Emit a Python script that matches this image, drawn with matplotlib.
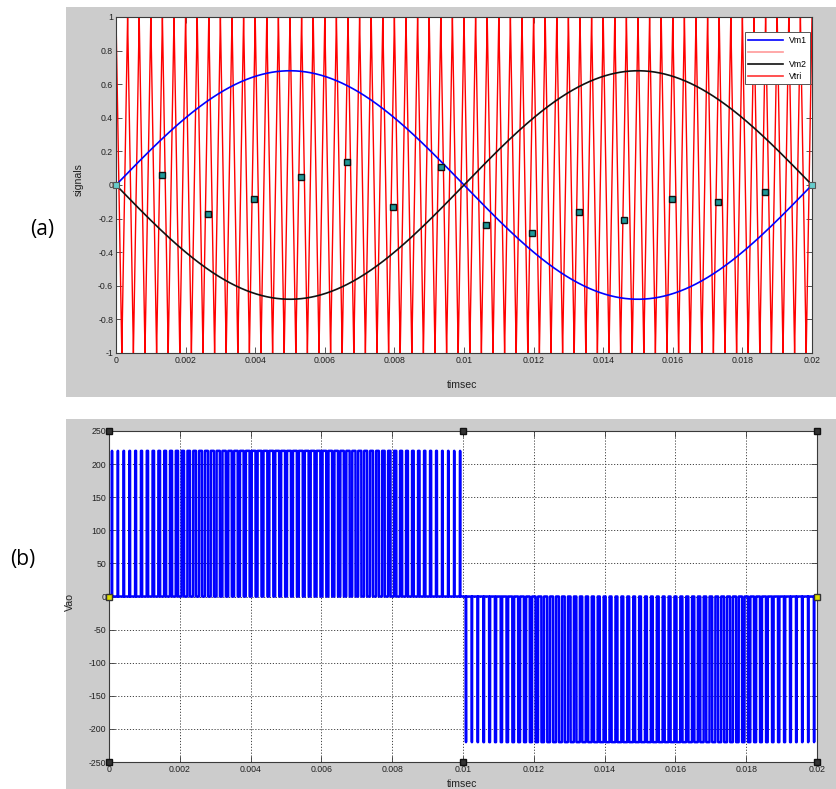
import numpy as np
import matplotlib
matplotlib.use('Agg')
import matplotlib.pyplot as plt
from matplotlib.patches import Rectangle
from matplotlib.lines import Line2D

plt.rcParams['font.family'] = ['Liberation Sans', 'DejaVu Sans']

# ---- signal parameters ----
t_end = 0.02
mod_freq = 50          # Hz
mod_amp = 0.68         # peak of Vm1 / Vm2
carrier_freq = 3000    # Hz (60 carrier periods over 0.02 s)
vdc = 220              # pulse height of Vao

# data-tip markers in panel (a)
tip_t = [0.00131, 0.00264, 0.00397, 0.00532, 0.00663, 0.00796, 0.00933,
         0.01063, 0.01195, 0.01330, 0.01461, 0.01598, 0.01729, 0.01864]
tip_v = [0.058, -0.173, -0.083, 0.046, 0.138, -0.131, 0.105,
         -0.236, -0.288, -0.160, -0.210, -0.083, -0.101, -0.042]

xticks = [0, 0.002, 0.004, 0.006, 0.008, 0.01, 0.012, 0.014, 0.016, 0.018, 0.02]
xtick_labels = ['0', '0.002', '0.004', '0.006', '0.008', '0.01',
                '0.012', '0.014', '0.016', '0.018', '0.02']
yticks_a = [-1, -0.8, -0.6, -0.4, -0.2, 0, 0.2, 0.4, 0.6, 0.8, 1]
ytick_labels_a = ['-1', '-0.8', '-0.6', '-0.4', '-0.2', '0',
                  '0.2', '0.4', '0.6', '0.8', '1']
yticks_b = [-250, -200, -150, -100, -50, 0, 50, 100, 150, 200, 250]
ytick_labels_b = [str(v) for v in yticks_b]

# ---- waveforms ----
t = np.linspace(0, t_end, 240001)
vm1 = mod_amp * np.sin(2 * np.pi * mod_freq * t)
vm2 = -vm1
vtri = 4 * np.abs((t * carrier_freq) % 1.0 - 0.5) - 1
vao = vdc * ((vm1 > vtri).astype(float) - (vm2 > vtri).astype(float))

W, H = 837, 789
fig = plt.figure(figsize=(W / 100, H / 100), dpi=100, facecolor='white')

gray = '#cccccc'
fig.patches.append(Rectangle((66 / W, 1 - 397 / H), (W - 66) / W, (397 - 7) / H,
                             transform=fig.transFigure, facecolor=gray,
                             edgecolor='none', zorder=-10))
fig.patches.append(Rectangle((66 / W, 0), (W - 66) / W, (789 - 419) / H,
                             transform=fig.transFigure, facecolor=gray,
                             edgecolor='none', zorder=-10))

tick_fs = 6.3
label_fs = 7.6
spine_col = '#3a3a3a'

def style_axes(ax):
    for s in ax.spines.values():
        s.set_color(spine_col)
        s.set_linewidth(0.8)
    ax.tick_params(direction='in', length=4, width=0.6, colors=spine_col,
                   labelsize=tick_fs, top=True, right=True, pad=2)
    for lab in ax.get_xticklabels() + ax.get_yticklabels():
        lab.set_color('#222222')

# ---- panel (a) ----
ax1 = fig.add_axes([116 / W, 1 - 353 / H, (812 - 116) / W, (353 - 17) / H])
ax1.set_facecolor('white')
ax1.plot(t, vtri, color='#ff0000', lw=1.0, zorder=2)
ax1.plot(t, vm1, color='#0000ff', lw=1.2, zorder=3)
ax1.plot(t, vm2, color='#111111', lw=1.2, zorder=3)
ax1.plot(tip_t, tip_v, linestyle='none', marker='s', markersize=4.2,
         markerfacecolor='#1f9a9a', markeredgecolor='#111111',
         markeredgewidth=1.0, zorder=5)
ax1.plot([0, t_end], [0, 0], linestyle='none', marker='s', markersize=4,
         markerfacecolor='#66cccc', markeredgecolor='#555555',
         markeredgewidth=0.8, zorder=5, clip_on=False)
ax1.set_xlim(0, t_end)
ax1.set_ylim(-1, 1)
ax1.set_xticks(xticks)
ax1.set_xticklabels(xtick_labels)
ax1.set_yticks(yticks_a)
ax1.set_yticklabels(ytick_labels_a)
style_axes(ax1)
ax1.set_xlabel('timsec', fontsize=label_fs, color='#222222')
ax1.set_ylabel('signals', fontsize=label_fs, color='#222222')
ax1.xaxis.set_label_coords(0.497, -0.08)
ax1.yaxis.set_label_coords(-0.047, 0.515)

handles = [Line2D([], [], color='#0000ff', lw=1.2),
           Line2D([], [], color='#ff9999', lw=1.2),
           Line2D([], [], color='#111111', lw=1.2),
           Line2D([], [], color='#ff3333', lw=1.2)]
labels = ['Vm1', '', 'Vm2', 'Vtri']
leg = ax1.legend(handles, labels, loc='upper right', fontsize=6.3,
                 bbox_to_anchor=(0.9975, 0.955), frameon=True, fancybox=False,
                 framealpha=1, edgecolor='#555555', handlelength=4.0,
                 handletextpad=0.6, borderpad=0.4, labelspacing=0.35,
                 borderaxespad=0.0)
leg.get_frame().set_linewidth(0.7)
leg.set_zorder(10)

# ---- panel (b) ----
ax2 = fig.add_axes([109 / W, 1 - 762 / H, (817 - 109) / W, (762 - 431) / H])
ax2.set_facecolor('white')
ax2.plot(t, vao, color='#0000ff', lw=1.8, zorder=3)
ax2.set_xlim(0, t_end)
ax2.set_ylim(-250, 250)
ax2.set_xticks(xticks)
ax2.set_xticklabels(xtick_labels)
ax2.set_yticks(yticks_b)
ax2.set_yticklabels(ytick_labels_b)
ax2.grid(True, linestyle=(0, (1.2, 1.8)), color='#444444', linewidth=0.7)
ax2.set_axisbelow(True)
style_axes(ax2)
corner_x = [0, 0.01, 0.02, 0, 0.01, 0.02]
corner_y = [250, 250, 250, -250, -250, -250]
ax2.plot(corner_x, corner_y, linestyle='none', marker='s', markersize=4,
         markerfacecolor='#333333', markeredgecolor='#111111', zorder=6,
         clip_on=False)
ax2.plot([0, t_end], [0, 0], linestyle='none', marker='s', markersize=4,
         markerfacecolor='#dddd00', markeredgecolor='#333333', zorder=6,
         clip_on=False)
ax2.set_xlabel('timsec', fontsize=label_fs, color='#222222')
ax2.set_ylabel('Vao', fontsize=label_fs, color='#222222')
ax2.xaxis.set_label_coords(0.4986, -0.052)
ax2.yaxis.set_label_coords(-0.048, 0.483)

# ---- panel tags ----
fig.text(42 / W, 1 - 230 / H, '(a)', fontsize=15, ha='center', va='center',
         family=['Open Sans', 'DejaVu Sans'])
fig.text(23 / W, 1 - 560 / H, '(b)', fontsize=15, ha='center', va='center',
         family=['Open Sans', 'DejaVu Sans'])

fig.savefig('out.png', dpi=100, facecolor='white')
